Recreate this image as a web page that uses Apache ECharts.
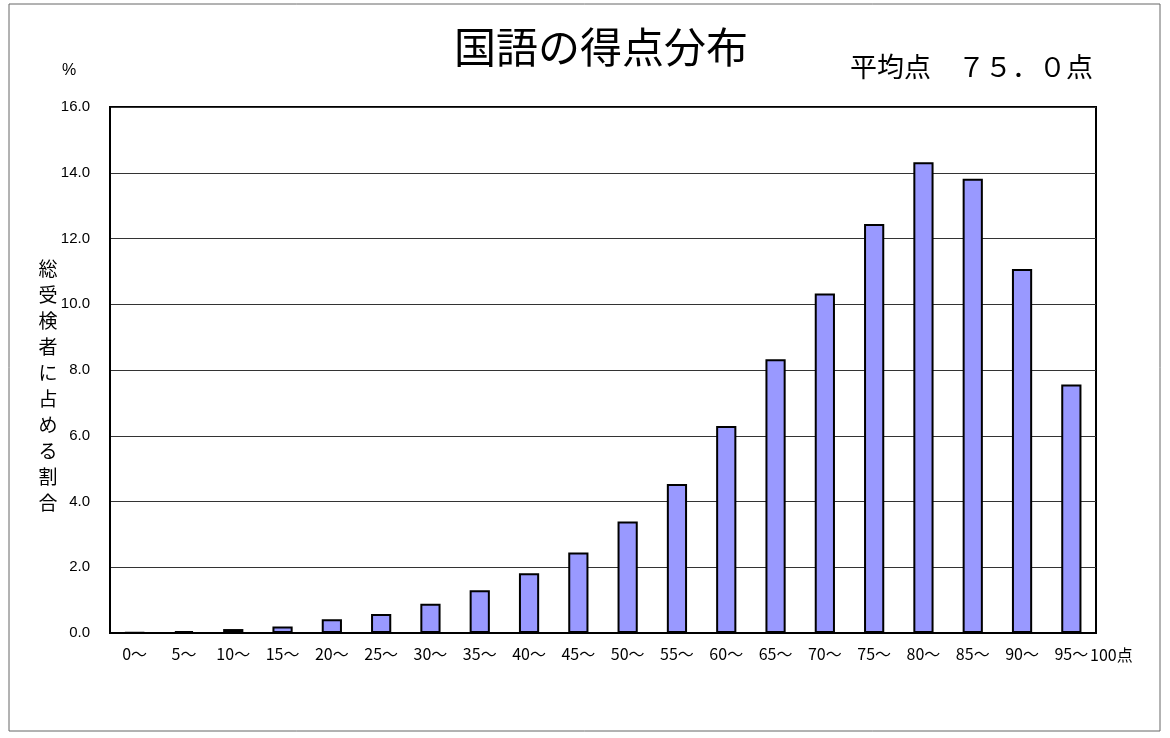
<!DOCTYPE html>
<html>
<head>
<meta charset="utf-8">
<script src="https://cdn.jsdelivr.net/npm/echarts@6/dist/echarts.min.js"></script>
<style>
  html, body { margin: 0; padding: 0; background: #fff; }
  #chart { width: 1170px; height: 738px; }
</style>
</head>
<body>
<div id="chart"></div>
<script>
// score bands (lower bound), last one runs to 100
var categories = ['0～', '5～', '10～', '15～', '20～', '25～', '30～', '35～', '40～', '45～',
  '50～', '55～', '60～', '65～', '70～', '75～', '80～', '85～', '90～', '95～'];
// share of all examinees, %
var shares = [0.02, 0.06, 0.12, 0.2, 0.42, 0.58, 0.89, 1.3, 1.82, 2.45,
  3.39, 4.53, 6.3, 8.33, 10.33, 12.44, 14.32, 13.82, 11.07, 7.56];
var yTicks = [0, 2, 4, 6, 8, 10, 12, 14, 16];

var titleText = '国語の得点分布';
var averageText = '平均点　７５．０点';
var yName = '総受検者に占める割合';

var jp = '"Noto Sans CJK JP", sans-serif';
var chart = echarts.init(document.getElementById('chart'));

chart.setOption({
  animation: false,
  backgroundColor: '#fff',
  grid: {
    left: 110,
    right: 74,
    top: 107,
    bottom: 105,
    show: true,
    borderColor: '#000',
    borderWidth: 2
  },
  xAxis: {
    type: 'category',
    data: categories,
    axisLine: { lineStyle: { color: '#000', width: 2 } },
    axisTick: { inside: true, length: 4, lineStyle: { color: '#000' } },
    axisLabel: {
      color: '#000',
      fontFamily: jp,
      fontSize: 16,
      margin: 13,
      interval: 0
    }
  },
  yAxis: {
    type: 'value',
    min: yTicks[0],
    max: yTicks[yTicks.length - 1],
    interval: 2,
    axisLine: { show: true, lineStyle: { color: '#000', width: 2 } },
    axisTick: { show: false },
    splitLine: { lineStyle: { color: '#333', width: 1 } },
    axisLabel: {
      color: '#000',
      fontFamily: '"Liberation Sans", Arial, sans-serif',
      fontSize: 15,
      margin: 20,
      formatter: function (v) { return v.toFixed(1); }
    }
  },
  series: [{
    type: 'bar',
    data: shares,
    barWidth: '41%',
    itemStyle: {
      color: '#9999ff',
      borderColor: '#000',
      borderWidth: 2
    }
  }],
  graphic: [
    {
      type: 'rect',
      shape: { x: 9, y: 4, width: 1151, height: 727 },
      style: { fill: null, stroke: '#666', lineWidth: 1 },
      silent: true
    },
    {
      type: 'text', x: 601, y: 47,
      style: { text: titleText, font: '42px ' + jp, fill: '#000', align: 'center', verticalAlign: 'middle' }
    },
    {
      type: 'text', x: 1093, y: 67,
      style: { text: averageText, font: '27px ' + jp, fill: '#000', align: 'right', verticalAlign: 'middle' }
    },
    {
      type: 'text', x: 62, y: 71,
      style: { text: '%', font: '16px "Liberation Sans", Arial, sans-serif', fill: '#000', verticalAlign: 'middle' }
    },
    {
      type: 'text', x: 48, y: 386,
      style: {
        text: yName.split('').join('\n'),
        font: '19px ' + jp,
        lineHeight: 26,
        fill: '#000',
        align: 'center',
        verticalAlign: 'middle'
      }
    },
    {
      type: 'text', x: 1090, y: 655,
      style: { text: '100点', font: '16px ' + jp, fill: '#000', align: 'left', verticalAlign: 'middle' }
    }
  ]
});
</script>
</body>
</html>
